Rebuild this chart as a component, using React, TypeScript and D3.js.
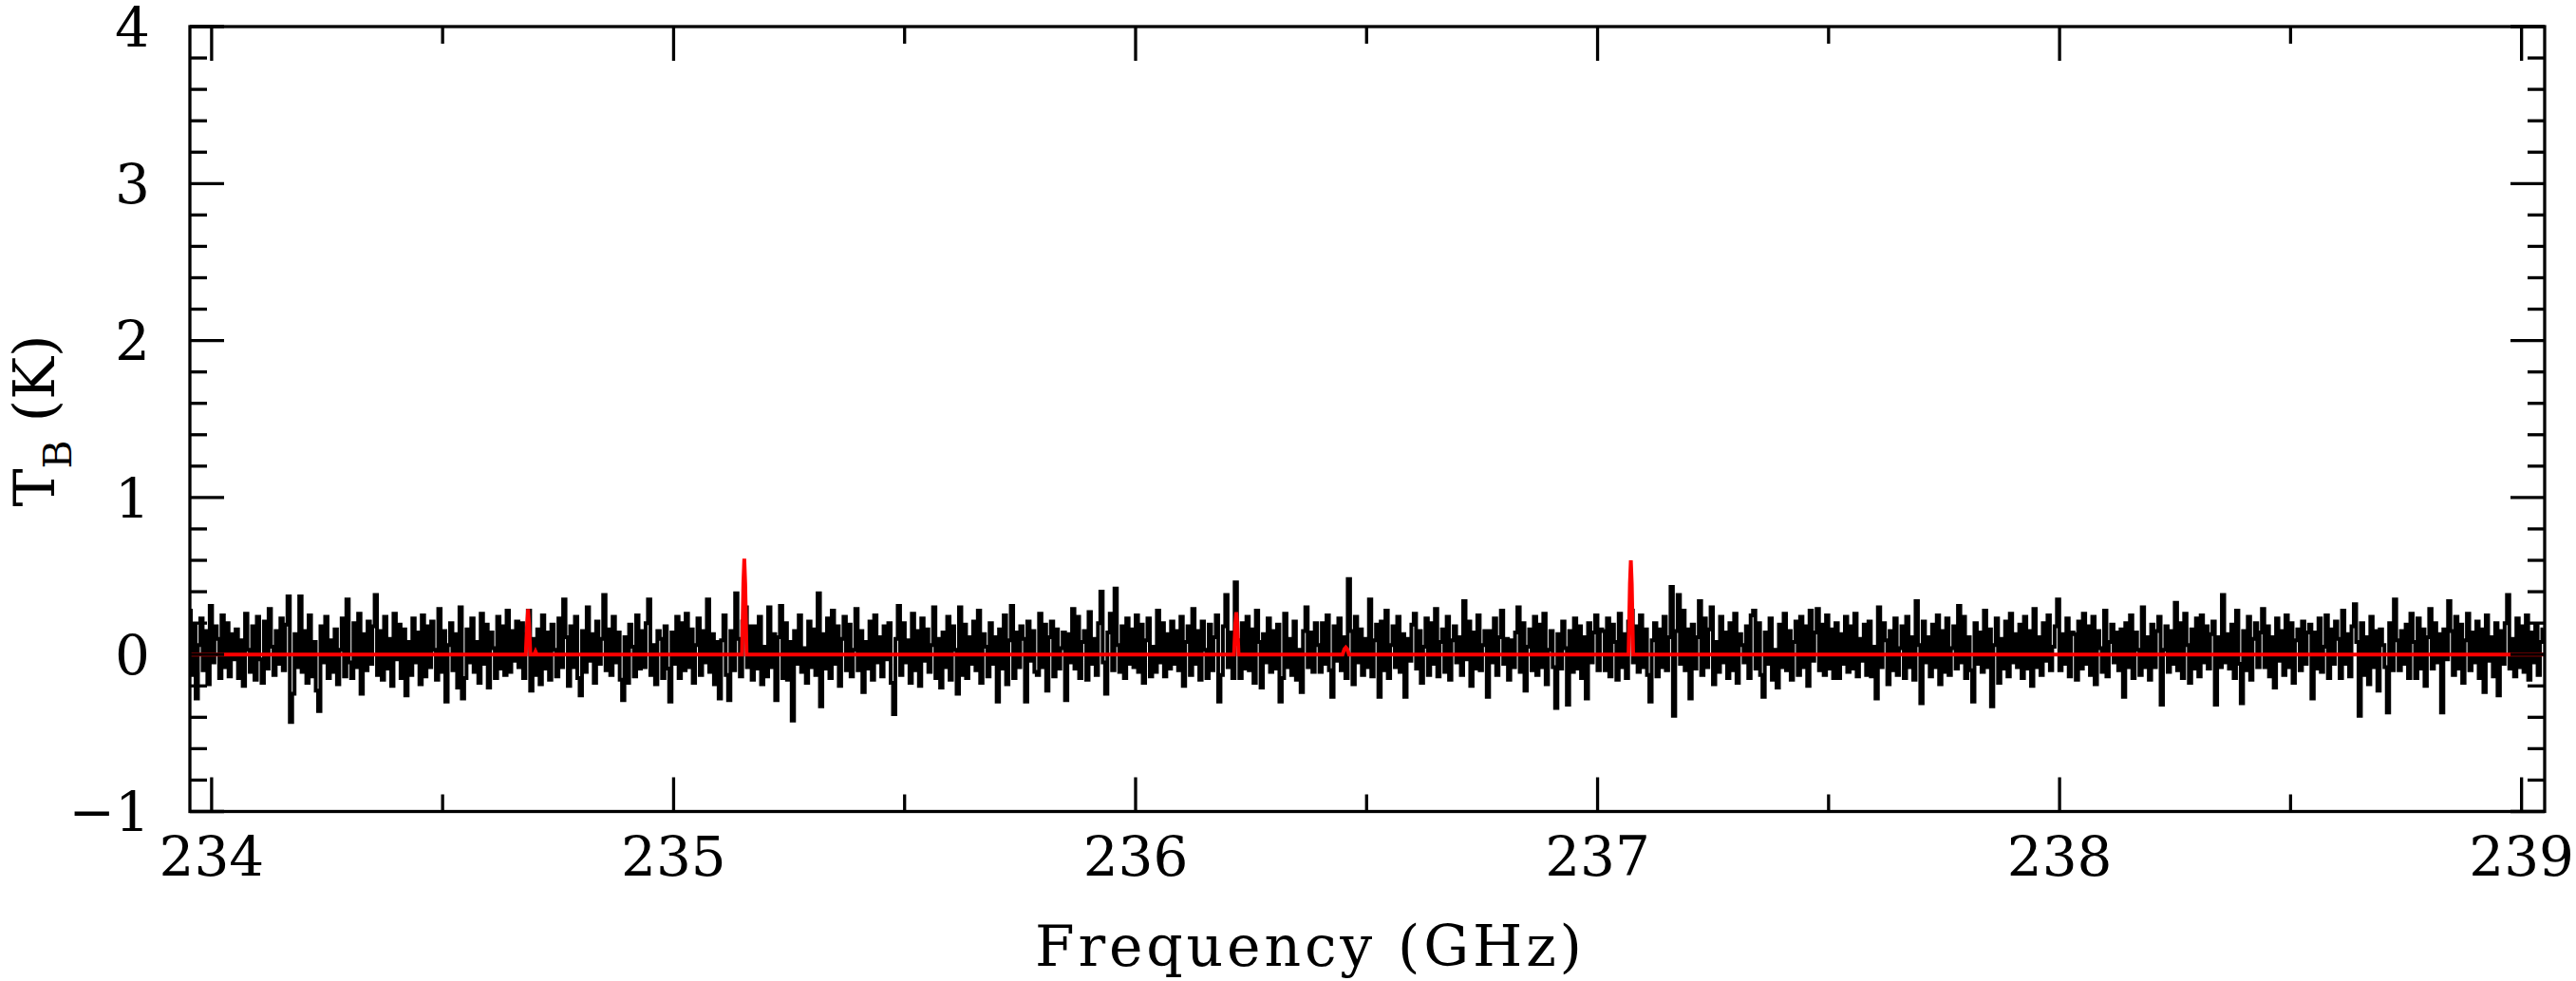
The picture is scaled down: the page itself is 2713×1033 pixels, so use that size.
import * as d3 from "d3";

// spectrum channels (K), 200 channels per segment, 5.1 MHz each, starting at 233.95 GHz
const seg0 = [
  0.28, -0.13, 0.19, -0.28, 0.06, 0.23, -0.1, 0.15, -0.19, 0.31, -0.05, 0.18, 0.1, -0.15, 0.25, -0.08, 0.2, -0.14, 0.13, -0.03,
  0.16, -0.15, 0.09, -0.2, 0.26, 0.03, -0.11, 0.18, -0.16, 0.24, -0.03, -0.18, 0.21, -0.09, 0.29, 0.05, -0.13, 0.15, -0.06, 0.23,
  -0.1, 0.19, 0.37, -0.43, -0.25, 0.13, -0.08, 0.37, -0.11, 0.15, -0.18, 0.25, -0.14, 0.08, -0.23, -0.36, 0.18, -0.05, 0.24, -0.15,
  0.09, -0.11, 0.16, -0.19, 0.03, 0.23, -0.14, 0.35, -0.05, -0.15, 0.2, -0.08, 0.26, -0.25, 0.13, -0.1, 0.21, -0.06, 0.18, 0.38,
  -0.13, 0.15, -0.16, 0.24, -0.09, 0.1, -0.2, 0.26, -0.03, 0.19, -0.15, 0.16, -0.26, 0.08, -0.13, 0.23, -0.05, 0.14, -0.19, 0.25,
  -0.14, 0.18, -0.08, 0.21, 0.03, -0.16, 0.29, -0.11, 0.15, -0.3, 0.06, 0.2, -0.1, 0.13, -0.21, 0.3, -0.28, -0.15, 0.16, -0.05,
  0.23, -0.11, 0.08, -0.18, 0.26, -0.06, 0.19, -0.21, 0.14, 0.04, -0.15, 0.24, -0.09, 0.18, -0.13, 0.28, -0.11, 0.15, -0.04, 0.21,
  -0.08, 0.2, -0.15, 0.13, 0.28, -0.23, 0.1, -0.13, 0.16, -0.19, 0.25, -0.09, 0.14, -0.16, 0.19, 0.03, -0.14, 0.23, -0.08, 0.35,
  0.11, -0.2, 0.18, -0.08, 0.24, -0.15, -0.26, 0.15, -0.11, 0.3, -0.04, 0.13, -0.18, 0.21, -0.06, 0.1, 0.38, -0.1, 0.16, -0.13,
  0.24, -0.05, 0.14, -0.16, -0.29, 0.11, -0.18, 0.19, 0.05, -0.14, 0.25, -0.09, 0.15, -0.08, 0.2, 0.35, -0.13, 0.06, -0.19, 0.15,
];
const seg1 = [
  0.1, -0.15, 0.18, -0.09, -0.3, 0.14, -0.06, 0.24, -0.15, 0.2, -0.1, 0.26, -0.08, 0.16, -0.18, 0.06, 0.23, -0.13, 0.15, -0.05,
  0.35, -0.11, 0.13, -0.19, 0.08, -0.28, 0.09, 0.25, -0.13, -0.29, 0.15, -0.1, 0.39, 0.1, -0.14, 0.21, 0.3, -0.08, 0.18, -0.16,
  0.18, -0.09, 0.24, -0.19, 0.05, -0.14, 0.3, -0.08, 0.13, -0.29, 0.11, 0.31, -0.15, 0.2, -0.16, 0.08, -0.42, 0.15, -0.06, 0.25,
  -0.11, 0.04, -0.18, 0.21, -0.08, 0.16, -0.13, 0.39, -0.33, 0.13, -0.09, 0.23, -0.15, 0.28, -0.06, 0.18, -0.2, 0.1, 0.24, -0.1,
  0.19, -0.14, 0.03, 0.29, -0.1, 0.15, -0.24, 0.08, -0.09, 0.21, -0.16, 0.25, -0.05, 0.11, -0.14, 0.18, -0.03, 0.2, -0.18, -0.38,
  0.1, 0.31, -0.13, 0.2, -0.05, 0.09, -0.18, 0.26, -0.1, 0.15, -0.2, 0.23, -0.04, 0.16, -0.11, 0.06, 0.3, -0.15, 0.1, -0.21,
  0.14, -0.08, 0.24, -0.16, 0.18, 0.03, -0.25, 0.3, -0.13, 0.19, -0.15, 0.11, -0.06, 0.21, -0.1, 0.28, -0.18, 0.13, 0.05, -0.14,
  0.2, -0.06, 0.11, -0.3, 0.16, -0.09, 0.25, -0.19, 0.09, 0.31, -0.15, 0.14, -0.08, 0.18, 0.1, -0.3, 0.21, -0.04, 0.15, -0.11,
  -0.13, 0.26, -0.08, 0.19, -0.23, 0.11, 0.21, -0.14, 0.16, -0.09, 0.04, 0.14, -0.29, 0.13, -0.05, 0.29, -0.09, 0.24, -0.15, 0.08,
  0.15, -0.16, 0.27, -0.06, 0.1, -0.13, 0.2, 0.4, -0.05, -0.25, 0.14, 0.26, -0.1, 0.42, 0.06, -0.11, 0.18, -0.15, 0.23, -0.06,
];
const seg2 = [
  0.16, -0.08, 0.25, -0.11, 0.19, -0.18, 0.09, 0.23, -0.14, 0.05, -0.11, 0.28, -0.05, 0.2, -0.14, 0.13, -0.09, 0.21, -0.06, 0.15,
  -0.1, 0.24, -0.2, 0.08, 0.18, -0.13, 0.29, -0.06, 0.15, -0.16, 0.21, 0.03, -0.15, 0.19, -0.1, 0.11, 0.25, -0.3, -0.13, 0.18,
  0.38, -0.08, 0.14, -0.15, 0.46, 0.09, -0.15, 0.2, -0.09, 0.24, -0.1, 0.16, -0.18, 0.28, 0.08, -0.21, 0.13, -0.05, 0.23, -0.11,
  0.15, -0.09, 0.19, -0.3, -0.15, 0.26, -0.08, 0.1, -0.13, 0.21, -0.16, 0.03, -0.24, 0.15, 0.3, -0.08, 0.14, -0.11, 0.2, 0.06,
  -0.11, 0.2, -0.06, 0.25, -0.1, -0.27, 0.18, -0.04, 0.23, -0.1, 0.11, -0.15, 0.48, 0.15, -0.19, 0.24, -0.05, 0.16, -0.13, 0.1,
  -0.08, 0.35, -0.14, 0.09, 0.19, -0.27, 0.21, -0.1, 0.28, -0.15, 0.06, 0.18, -0.08, 0.24, -0.11, 0.13, -0.27, 0.1, -0.04, 0.19,
  0.26, -0.09, 0.15, -0.18, 0.05, 0.23, -0.13, 0.2, -0.06, 0.29, -0.14, 0.08, 0.16, -0.11, 0.24, -0.16, 0.09, 0.18, -0.05, 0.11,
  -0.13, 0.34, -0.03, 0.21, -0.2, 0.14, -0.09, 0.25, -0.1, 0.06, 0.15, -0.27, 0.15, -0.05, 0.23, -0.13, 0.11, 0.28, -0.06, 0.1,
  -0.16, 0.09, -0.08, 0.14, 0.3, -0.11, 0.2, -0.23, 0.05, 0.16, -0.1, 0.24, -0.13, 0.19, -0.08, 0.26, -0.19, 0.03, 0.15, -0.08,
  -0.34, 0.13, -0.09, 0.21, 0.04, -0.32, 0.15, -0.11, 0.23, -0.09, 0.18, -0.15, 0.11, -0.28, 0.2, -0.05, 0.14, 0.25, -0.1, 0.16,
];
const seg3 = [
  0.15, -0.1, 0.23, -0.14, 0.19, 0.08, -0.16, 0.26, -0.08, 0.13, -0.15, 0.21, 0.28, -0.05, 0.18, -0.11, 0.25, -0.08, 0.16, -0.13,
  -0.3, 0.09, 0.2, -0.14, 0.16, -0.08, 0.24, -0.1, 0.11, 0.43, -0.39, 0.15, 0.38, -0.06, 0.28, -0.1, 0.16, -0.28, 0.19, -0.09,
  0.11, 0.34, -0.13, 0.23, -0.08, 0.16, 0.3, -0.19, 0.08, -0.11, 0.24, -0.05, 0.14, -0.15, 0.2, -0.1, 0.26, -0.18, 0.13, 0.06,
  -0.05, 0.18, -0.15, 0.25, 0.28, -0.09, 0.2, -0.13, -0.27, 0.14, -0.06, 0.23, -0.16, 0.03, -0.21, 0.19, -0.08, 0.26, -0.1, 0.15,
  -0.16, 0.08, 0.21, -0.13, 0.24, -0.08, 0.18, -0.2, 0.28, -0.04, 0.14, 0.29, -0.1, 0.19, -0.13, 0.25, -0.09, 0.16, -0.15, 0.2,
  -0.15, 0.13, -0.06, 0.24, -0.11, 0.18, -0.09, 0.26, -0.14, 0.1, -0.04, 0.19, -0.13, 0.21, -0.14, 0.05, -0.28, 0.3, -0.08, 0.2,
  0.09, -0.19, 0.15, -0.1, 0.23, -0.13, 0.04, 0.18, -0.15, 0.24, -0.08, 0.11, -0.16, 0.34, 0.06, -0.31, 0.21, -0.05, 0.11, -0.14,
  0.19, -0.08, 0.25, -0.19, 0.15, -0.11, 0.23, -0.13, 0.04, 0.18, -0.09, 0.31, -0.05, 0.24, -0.15, 0.11, -0.1, -0.3, 0.2, -0.06,
  0.14, -0.11, 0.28, -0.08, 0.16, -0.33, 0.06, 0.23, -0.18, 0.1, -0.09, 0.21, -0.14, 0.26, -0.05, 0.13, -0.08, 0.19, -0.15, 0.24,
  -0.09, 0.15, -0.2, 0.29, -0.08, 0.11, -0.13, 0.2, -0.04, 0.25, -0.1, 0.05, 0.18, 0.35, -0.1, 0.13, -0.06, 0.23, -0.14, 0.14,
];
const seg4 = [
  0.13, -0.16, 0.21, -0.09, 0.26, -0.06, 0.18, -0.13, 0.24, -0.19, 0.15, 0.04, -0.11, 0.28, -0.14, 0.08, 0.19, -0.05, 0.14, -0.1,
  0.16, -0.27, 0.2, -0.08, 0.25, -0.15, 0.14, 0.03, -0.13, 0.3, -0.08, 0.11, -0.16, 0.19, -0.08, 0.15, 0.24, -0.32, 0.03, 0.18,
  -0.11, 0.15, -0.06, 0.33, -0.1, 0.2, -0.15, 0.26, 0.06, -0.18, 0.16, -0.09, 0.23, -0.14, 0.25, -0.05, 0.18, -0.09, 0.13, 0.21,
  -0.32, 0.11, -0.08, 0.38, -0.05, 0.13, -0.09, 0.19, -0.15, 0.28, -0.06, -0.31, 0.15, -0.1, 0.24, -0.16, 0.1, 0.2, -0.08, 0.14,
  0.29, -0.08, 0.18, -0.14, 0.11, -0.21, 0.23, -0.04, 0.15, -0.13, 0.25, -0.08, 0.2, -0.18, 0.09, 0.16, -0.1, 0.21, -0.06, 0.14,
  0.19, -0.28, 0.14, -0.09, 0.23, -0.11, 0.05, 0.25, -0.15, 0.16, -0.06, 0.21, 0.1, -0.15, 0.28, -0.06, 0.13, -0.14, 0.18, 0.32,
  0.08, -0.39, 0.2, -0.13, 0.11, -0.19, 0.24, -0.08, 0.15, -0.23, 0.16, 0.06, -0.08, -0.37, 0.2, -0.1, 0.35, 0.09, -0.1, 0.15,
  -0.06, 0.19, -0.15, 0.26, 0.08, -0.15, 0.23, -0.09, 0.16, -0.2, 0.11, 0.29, -0.09, 0.2, -0.05, 0.13, -0.37, 0.16, -0.03, 0.34,
  0.15, -0.13, 0.24, -0.09, 0.19, -0.18, 0.09, 0.26, -0.1, 0.14, -0.05, 0.21, -0.15, 0.16, -0.24, 0.25, -0.04, 0.11, -0.14, 0.2,
  -0.26, 0.15, -0.06, 0.2, 0.38, -0.09, 0.1, -0.14, 0.23, -0.08, 0.18, -0.11, 0.25, -0.16, 0.14, -0.05, 0.19, -0.13, 0.08, 0.16,
];

const freqStart = 233.95;
const chanWidth = 0.0051;

// model (red) line, explicit points
const modelFreq = [
  233.95, 234.68, 234.683, 234.685, 234.687, 234.69, 234.698, 234.701, 234.704,
  235.148, 235.151, 235.153, 235.155, 235.158,
  236.213, 236.216, 236.218, 236.22, 236.223,
  236.448, 236.452, 236.455, 236.458, 236.462,
  237.067, 237.07, 237.072, 237.074, 237.077, 239.06,
];
const modelTb = [
  0, 0, 0.2, 0.29, 0.2, 0, 0, 0.02, 0,
  0, 0.45, 0.61, 0.45, 0,
  0, 0.2, 0.27, 0.2, 0,
  0, 0.035, 0.045, 0.035, 0,
  0, 0.45, 0.6, 0.45, 0, 0,
];

const xTickLabels = [234, 235, 236, 237, 238, 239];
const yTickLabels = [-1, 0, 1, 2, 3, 4];

const W = 2713;
const H = 1033;
const left = 200;
const right = 2680;
const top = 28;
const bottom = 854.5;
const font = "'DejaVu Serif', serif";

export default function App() {
  const x = d3.scaleLinear().domain([233.953, 239.05]).range([left, right]);
  const y = d3.scaleLinear().domain([-1, 4]).range([bottom, top]);

  const spectrum = [...seg0, ...seg1, ...seg2, ...seg3, ...seg4].map((t, i) => ({
    f: freqStart + (i + 0.5) * chanWidth,
    t,
  }));
  const model = modelFreq.map((f, i) => ({ f, t: modelTb[i] }));

  const line = d3
    .line<{ f: number; t: number }>()
    .x((d) => x(d.f))
    .y((d) => y(d.t));

  const xMinor = d3.range(234.5, 239, 1);
  const yMinor = d3.range(-1, 4.001, 0.2).filter((v) => Math.abs(v - Math.round(v)) > 0.01);

  const sw = 3.3;

  return (
    <svg
      width={W}
      height={H}
      style={{ position: "absolute", left: 0, top: 0, background: "#fff" }}
    >
      <defs>
        <clipPath id="plot">
          <rect x={left} y={top} width={right - left} height={bottom - top} />
        </clipPath>
      </defs>
      <g clipPath="url(#plot)">
        <path
          d={line.curve(d3.curveStep)(spectrum) || ""}
          fill="none"
          stroke="#000"
          strokeWidth={4}
        />
        <path
          d={line.curve(d3.curveLinear)(model) || ""}
          fill="none"
          stroke="#ff0000"
          strokeWidth={4}
        />
      </g>

      {/* ticks */}
      <g stroke="#000" strokeWidth={sw}>
        {xTickLabels.map((v) => (
          <g key={"xt" + v}>
            <line x1={x(v)} x2={x(v)} y1={bottom} y2={bottom - 36} />
            <line x1={x(v)} x2={x(v)} y1={top} y2={top + 36} />
          </g>
        ))}
        {xMinor.map((v) => (
          <g key={"xm" + v}>
            <line x1={x(v)} x2={x(v)} y1={bottom} y2={bottom - 18} />
            <line x1={x(v)} x2={x(v)} y1={top} y2={top + 18} />
          </g>
        ))}
        {yTickLabels.map((v) => (
          <g key={"yt" + v}>
            <line x1={left} x2={left + 36} y1={y(v)} y2={y(v)} />
            <line x1={right} x2={right - 36} y1={y(v)} y2={y(v)} />
          </g>
        ))}
        {yMinor.map((v) => (
          <g key={"ym" + v}>
            <line x1={left} x2={left + 18} y1={y(v)} y2={y(v)} />
            <line x1={right} x2={right - 18} y1={y(v)} y2={y(v)} />
          </g>
        ))}
        <rect
          x={left}
          y={top}
          width={right - left}
          height={bottom - top}
          fill="none"
        />
      </g>

      {/* tick labels */}
      <g fontFamily={font} fontSize={58} fill="#000">
        {xTickLabels.map((v) => (
          <text key={"xl" + v} x={x(v)} y={922} textAnchor="middle">
            {v}
          </text>
        ))}
        {yTickLabels.map((v) => (
          <text key={"yl" + v} x={158} y={y(v)} dy="0.36em" textAnchor="end">
            {v < 0 ? "\u2212" + Math.abs(v) : v}
          </text>
        ))}
      </g>

      {/* axis titles */}
      <text
        x={1378}
        y={1017}
        textAnchor="middle"
        fontFamily={font}
        fontSize={60}
        textLength={576}
        lengthAdjust="spacing"
      >
        Frequency (GHz)
      </text>
      <text
        transform="translate(57,443) rotate(-90)"
        textAnchor="middle"
        fontFamily={font}
        fontSize={60}
      >
        T
        <tspan fontSize={41} dy={18}>
          B
        </tspan>
        <tspan dy={-18}> (K)</tspan>
      </text>
    </svg>
  );
}
